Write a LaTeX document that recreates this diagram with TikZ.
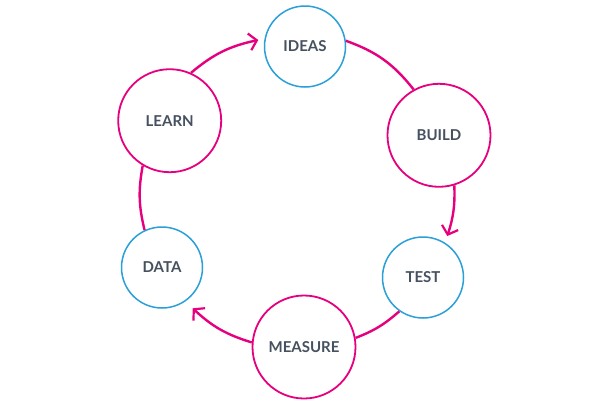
\documentclass[tikz,border=0pt]{standalone}
\usepackage{fontspec}
\newfontfamily\labfont{Lato}
\usetikzlibrary{arrows.meta}
\definecolor{mag}{HTML}{E6007E}
\definecolor{cblue}{HTML}{2A9FD8}
\definecolor{txt}{HTML}{465160}
\tikzset{
  bignode/.style={circle, draw=mag, line width=1.8pt, minimum size=103pt, inner sep=0pt, text=txt, font=\labfont\bfseries\fontsize{15}{17}\selectfont},
  smallnode/.style={circle, draw=cblue, line width=1.5pt, minimum size=81pt, inner sep=0pt, text=txt, font=\labfont\bfseries\fontsize{15}{17}\selectfont},
  conn/.style={draw=mag, line width=2.4pt},
  arr/.style={conn, -{Straight Barb[length=7.5pt,width=17pt,line width=2.2pt]}}
}
\begin{document}
\begin{tikzpicture}[x=1pt,y=-1pt]
\useasboundingbox[fill=white] (0,0) rectangle (608,405);
\node[smallnode] (ideas) at (305,46.5) {IDEAS};
\node[bignode] (build) at (439,135.3) {BUILD};
\node[smallnode] (test) at (423,277.5) {TEST};
\node[bignode] (measure) at (304,347) {MEASURE};
\node[smallnode] (data) at (162,267.5) {DATA};
\node[bignode] (learn) at (169.7,120.7) {LEARN};
\coordinate (t1) at (258.3,40);
\coordinate (t2) at (447.3,236);
\coordinate (t3) at (192.7,308.3);
\draw[arr] (learn.66) to[bend left=14] (t1);
\draw[conn] (ideas.8) to[bend left=16] (build.119);
\draw[arr] (build.-73) to[bend left=10] (t2);
\draw[conn] (test.235) to[bend left=10] (measure.10);
\draw[arr] (measure.175) to[bend left=13] (t3);
\draw[conn] (data.115) to[bend left=12] (learn.239);
\end{tikzpicture}
\end{document}
